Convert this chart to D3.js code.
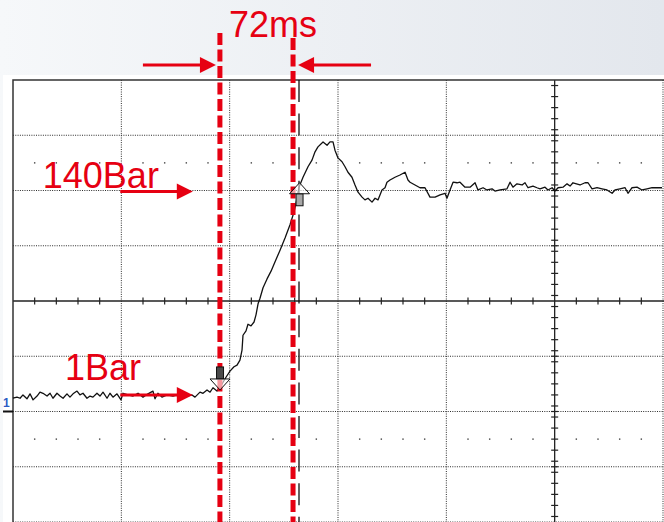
<!DOCTYPE html>
<html>
<head>
<meta charset="utf-8">
<script src="https://cdn.jsdelivr.net/npm/d3@7"></script>
<style>
  html, body { margin: 0; padding: 0; }
  body { width: 664px; height: 522px; overflow: hidden; }
  text { font-family: "Liberation Sans", Arial, sans-serif; }
</style>
</head>
<body>
<svg id="scope"></svg>
<script>
// scope trace: time in ms (100 ms/div), level in divisions from centre
var gridTimes = [0, 100, 200, 300, 400, 500, 600];
var gridLevels = [-4, -3, -2, -1, 0, 1, 2, 3, 4];
var traceT = [0,3.7,6.5,9.2,12.9,15.7,18.5,22.2,24.9,27.7,31.4,34.2,36.9,40.6,43.4,46.2,49.8,52.6,55.4,59.1,
  61.8,64.6,68.3,71.1,73.8,77.5,80.3,83.1,86.8,89.5,92.3,96.0,99.7,101.5,106.2,110.8,115.4,120.0,124.6,129.2,
  131.1,133.8,137.5,142.2,147.7,154.2,160.6,165.2,168.0,172.6,175.4,179.1,181.9,184.6,188.3,191.1,
  193.9,196.6,200.3,204.0,206.8,209.5,211.4,212.3,215.1,216.9,219.7,222.5,224.3,226.2,228.0,230.8,234.5,238.2,241.9,246.5,
  251.1,255.7,259.4,262.2,264.0,267.7,272.3,276.0,278.8,281.5,285.2,286.2,289.9,292.6,295.4,297.2,300.0,303.7,306.5,309.2,
  312.9,315.7,318.5,322.2,324.9,327.7,331.4,334.2,336.9,340.6,343.4,345.2,348.0,352.6,357.2,361.9,364.6,366.5,371.1,375.7,
  380.3,384.9,389.6,394.2,398.8,400.6,403.4,406.2,409.9,412.6,417.2,421.9,426.5,429.2,433.9,437.5,442.2,444.9,449.6,456.0,
  458.8,461.5,465.2,469.9,472.6,475.4,480.0,483.7,486.5,491.1,493.8,497.6,500.3,503.1,507.7,511.4,514.2,516.9,523.4,528.0,
  530.8,534.5,539.1,543.7,548.3,553.0,555.7,560.3,565.0,567.7,571.4,576.0,580.6,585.3,589.9,594.5,599.1];
var traceV = [-1.76,-1.74,-1.76,-1.70,-1.77,-1.68,-1.79,-1.72,-1.65,-1.67,-1.72,-1.67,-1.76,-1.67,-1.72,-1.76,-1.68,-1.74,-1.68,-1.63,
  -1.70,-1.67,-1.76,-1.72,-1.74,-1.67,-1.72,-1.65,-1.76,-1.67,-1.74,-1.68,-1.79,-1.67,-1.70,-1.72,-1.67,-1.74,-1.68,-1.63,
  -1.77,-1.67,-1.74,-1.70,-1.72,-1.68,-1.72,-1.70,-1.74,-1.65,-1.67,-1.61,-1.65,-1.57,-1.63,-1.57,
  -1.47,-1.38,-1.27,-1.19,-1.16,-1.07,-0.89,-0.62,-0.54,-0.42,-0.45,-0.38,-0.25,-0.05,0.05,0.24,0.40,0.54,0.71,0.92,
  1.14,1.38,1.61,1.86,2.06,2.24,2.43,2.55,2.70,2.79,2.86,2.88,2.82,2.88,2.88,2.73,2.59,2.52,2.43,2.33,
  2.24,2.10,1.97,1.88,1.83,1.86,1.79,1.86,1.83,2.01,2.05,2.15,2.19,2.24,2.28,2.33,2.19,2.15,2.10,2.05,
  2.05,1.88,1.88,1.92,1.95,1.86,2.01,2.15,2.14,2.15,2.06,2.06,2.14,2.01,2.05,2.01,2.03,1.99,2.01,2.03,
  2.15,2.06,2.12,2.10,2.14,2.05,2.08,2.05,2.03,2.06,2.01,2.05,1.99,2.05,2.06,2.12,2.08,2.14,2.10,2.14,
  2.14,2.03,2.05,2.03,2.01,1.95,2.01,2.03,2.05,1.95,2.05,2.06,2.01,2.03,2.05,2.05,2.05];

// cursors and annotations
var cursorTimes = [191, 258.5];
var scopeCursorTime = 264;
var cursorLabel = "72ms";
var groundLevel = -2;
var levelLabels = ["140Bar", "1Bar"];
var levelValues = [1.98, -1.70];
var levelLabelT = [27.5, 48];
var levelLabelV = [2.04, -1.43];
var levelArrowT = [99, 166];
var markerT = [191.1, 264.5];
var markerV = [-1.61, 2.14];
var markerDir = ["down", "up"];

var width = 664, height = 522;
var red = "#e60012";

var svg = d3.select("#scope")
  .attr("width", width)
  .attr("height", height);

// background: light gradient band with white screen area
var defs = svg.append("defs");
var grad = defs.append("linearGradient").attr("id", "bg").attr("x1", 0).attr("x2", 1).attr("y1", 0).attr("y2", 0);
grad.append("stop").attr("offset", "0%").attr("stop-color", "#f6f8fa");
grad.append("stop").attr("offset", "100%").attr("stop-color", "#e3e7ed");
svg.append("rect").attr("width", width).attr("height", height).attr("fill", "url(#bg)");
svg.append("rect").attr("x", 3).attr("y", 75).attr("width", width - 3).attr("height", height - 75).attr("fill", "#fff");

var x = d3.scaleLinear().domain([0, 600]).range([13, 663]);
var y = d3.scaleLinear().domain([-4, 4]).range([522, 80]);

var grid = svg.append("g");

// dotted graticule
grid.selectAll(".vgrid")
  .data(gridTimes.filter(function(t){ return t != 0 && t != 500; }))
  .enter().append("line")
  .attr("x1", function(d){ return x(d); }).attr("x2", function(d){ return x(d); })
  .attr("y1", y(4)).attr("y2", y(-4))
  .attr("stroke", "#2a2a2a").attr("stroke-width", 1).attr("stroke-dasharray", "1,1.3");

grid.selectAll(".hgrid")
  .data(gridLevels.filter(function(v){ return v != 0 && v != 4; }))
  .enter().append("line")
  .attr("x1", x(0)).attr("x2", width)
  .attr("y1", function(d){ return y(d); }).attr("y2", function(d){ return y(d); })
  .attr("stroke", "#2a2a2a").attr("stroke-width", 1).attr("stroke-dasharray", "1,1.3");

// dot rows at +/- 2.5 div
var dotTimes = d3.range(20, 600, 20).filter(function(t){ return t % 100 != 0; });
[2.5, -2.5].forEach(function(v){
  grid.selectAll(null)
    .data(dotTimes)
    .enter().append("rect")
    .attr("x", function(d){ return x(d) - 0.7; })
    .attr("y", y(v) - 0.7)
    .attr("width", 1.4).attr("height", 1.4)
    .attr("fill", "#444");
});

// centre axes with minor ticks
grid.append("line").attr("x1", x(0)).attr("x2", width).attr("y1", y(0)).attr("y2", y(0))
  .attr("stroke", "#222").attr("stroke-width", 1.3);
grid.append("line").attr("x1", x(500)).attr("x2", x(500)).attr("y1", y(4)).attr("y2", y(-4))
  .attr("stroke", "#222").attr("stroke-width", 1.3);
grid.selectAll(".xtick")
  .data(d3.range(20, 600, 20).filter(function(t){ return t % 100 != 0; }))
  .enter().append("line")
  .attr("x1", function(d){ return x(d); }).attr("x2", function(d){ return x(d); })
  .attr("y1", y(0) - 3.5).attr("y2", y(0) + 3.5)
  .attr("stroke", "#222").attr("stroke-width", 1.2);
grid.selectAll(".ytick")
  .data(d3.range(-39, 40, 2).map(function(i){ return i / 10; }).concat(d3.range(-3, 4, 1)).filter(function(v){ return v != 0; }))
  .enter().append("line")
  .attr("x1", x(500) - 3.5).attr("x2", x(500) + 3.5)
  .attr("y1", function(d){ return y(d); }).attr("y2", function(d){ return y(d); })
  .attr("stroke", "#222").attr("stroke-width", 1.2);

// screen border (top and left visible)
grid.append("path")
  .attr("d", "M" + width + "," + y(4) + "H" + x(0) + "V" + height)
  .attr("fill", "none").attr("stroke", "#333").attr("stroke-width", 1.5);

// channel 1 ground marker
svg.append("line").attr("x1", 3).attr("x2", x(0)).attr("y1", y(groundLevel)).attr("y2", y(groundLevel))
  .attr("stroke", "#111").attr("stroke-width", 2);
svg.append("text").attr("x", 3).attr("y", y(groundLevel) - 5)
  .attr("font-size", 12).attr("font-weight", "bold").attr("fill", "#2d5bc4").text("1");

// scope cursor (black long dash)
svg.append("line").attr("x1", x(scopeCursorTime)).attr("x2", x(scopeCursorTime))
  .attr("y1", y(4)).attr("y2", height)
  .attr("stroke", "#111").attr("stroke-width", 1.3).attr("stroke-dasharray", "22,11.6");

// trace
var line = d3.line()
  .x(function(d){ return x(d[0]); })
  .y(function(d){ return y(d[1]); });
svg.append("path")
  .datum(d3.zip(traceT, traceV))
  .attr("d", line)
  .attr("fill", "none").attr("stroke", "#111").attr("stroke-width", 1.3)
  .attr("stroke-linejoin", "round");

// red dashed cursor lines
svg.selectAll(".cursor")
  .data(cursorTimes)
  .enter().append("line")
  .attr("x1", function(d){ return x(d); }).attr("x2", function(d){ return x(d); })
  .attr("y1", function(d, i){ return i == 0 ? 33 : 38; }).attr("y2", height)
  .attr("stroke", red).attr("stroke-width", 5).attr("stroke-dasharray", "12,4.5");

// trigger/level markers (hollow arrows), drawn over the cursors
markerT.forEach(function(t, i){
  var px = x(t), py = y(markerV[i]);
  var s = markerDir[i] == "down" ? -1 : 1;
  var g = svg.append("g").attr("transform", "translate(" + px + "," + py + ")");
  g.append("rect").attr("x", -3.5).attr("width", 7)
    .attr("y", s > 0 ? 11 : -23).attr("height", 12)
    .attr("fill", s > 0 ? "#a8a8a8" : "#4a4a4a").attr("stroke", "#111").attr("stroke-width", 1);
  g.append("path").attr("d", "M0,0L-10," + (11 * s) + "L10," + (11 * s) + "Z")
    .attr("fill", "#fff").attr("fill-opacity", 0.6).attr("stroke", "#111").attr("stroke-width", 1);
});

function arrow(x1, x2, yy){
  var dir = x2 > x1 ? 1 : -1;
  var head = 16;
  svg.append("line").attr("x1", x1).attr("x2", x2 - dir * head + dir).attr("y1", yy).attr("y2", yy)
    .attr("stroke", red).attr("stroke-width", 3);
  svg.append("path")
    .attr("d", "M" + x2 + "," + yy + "L" + (x2 - dir * head) + "," + (yy - 8) + "L" + (x2 - dir * head) + "," + (yy + 8) + "Z")
    .attr("fill", red);
}

// 72ms arrows
arrow(x(cursorTimes[0]) - 77, x(cursorTimes[0]) - 4, y(4.27));
arrow(x(cursorTimes[1]) + 78, x(cursorTimes[1]) + 5, y(4.27));
svg.append("text").attr("x", x(cursorTimes[0]) + 9).attr("y", y(4.78))
  .attr("font-size", 36).attr("fill", red).text(cursorLabel);

// level annotations
levelLabels.forEach(function(lbl, i){
  arrow(x(levelArrowT[0]), x(levelArrowT[1]), y(levelValues[i]));
  svg.append("text").attr("x", x(levelLabelT[i])).attr("y", y(levelLabelV[i]))
    .attr("font-size", 36).attr("fill", red).text(lbl);
});
</script>
</body>
</html>
